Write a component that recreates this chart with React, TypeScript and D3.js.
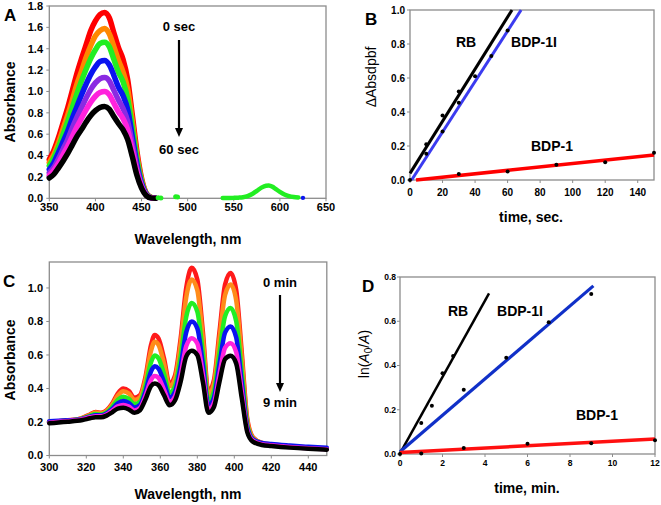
import React from "react";
import * as d3 from "d3";

// ---------------- Panel A data: absorbance spectra, 0–60 sec ----------------
const aWavelength = [350, 355, 360, 365, 370, 375, 380, 385, 390, 395, 400, 405, 410, 415, 420, 425, 430, 435, 440, 445, 450, 455, 460, 465];
const aAbs0s = [0.365, 0.45, 0.57, 0.71, 0.85, 1.01, 1.17, 1.31, 1.44, 1.57, 1.66, 1.72, 1.74, 1.69, 1.55, 1.41, 1.3, 1.11, 0.78, 0.44, 0.19, 0.05, 0.01, 0.0];
const aAbs10s = [0.335, 0.41, 0.52, 0.65, 0.78, 0.92, 1.07, 1.19, 1.32, 1.43, 1.52, 1.57, 1.59, 1.54, 1.42, 1.29, 1.18, 1.02, 0.72, 0.4, 0.17, 0.05, 0.01, 0.0];
const aAbs20s = [0.305, 0.38, 0.48, 0.6, 0.72, 0.85, 0.98, 1.1, 1.21, 1.31, 1.39, 1.45, 1.46, 1.42, 1.3, 1.18, 1.09, 0.93, 0.66, 0.37, 0.16, 0.045, 0.01, 0.0];
const aAbs30s = [0.27, 0.335, 0.43, 0.53, 0.63, 0.75, 0.86, 0.97, 1.07, 1.16, 1.23, 1.28, 1.29, 1.25, 1.15, 1.04, 0.96, 0.83, 0.58, 0.32, 0.14, 0.04, 0.006, 0.0];
const aAbs40s = [0.24, 0.29, 0.37, 0.46, 0.55, 0.66, 0.76, 0.85, 0.94, 1.02, 1.08, 1.12, 1.13, 1.1, 1.01, 0.92, 0.84, 0.72, 0.51, 0.28, 0.12, 0.034, 0.006, 0.0];
const aAbs50s = [0.215, 0.26, 0.33, 0.41, 0.49, 0.58, 0.67, 0.75, 0.83, 0.9, 0.955, 0.99, 1.0, 0.97, 0.89, 0.81, 0.745, 0.64, 0.45, 0.25, 0.11, 0.03, 0.005, 0.0];
const aAbs60s = [0.19, 0.225, 0.285, 0.35, 0.42, 0.5, 0.58, 0.645, 0.715, 0.775, 0.82, 0.85, 0.86, 0.835, 0.765, 0.7, 0.64, 0.55, 0.39, 0.215, 0.095, 0.026, 0.004, 0.0];
const aTailWavelength = [538, 545, 550, 555, 560, 565, 570, 575, 580, 585, 588, 592, 595, 600, 605, 610, 615, 620];
const aTailAbs = [0.003, 0.003, 0.004, 0.006, 0.01, 0.02, 0.04, 0.07, 0.1, 0.118, 0.12, 0.108, 0.09, 0.06, 0.035, 0.02, 0.012, 0.008];
const aDotWavelength = [468, 471, 487, 489];
const aDotAbs = [0.004, 0.003, 0.015, 0.012];
const aBlueDotWavelength = [625];
const aBlueDotAbs = [0.004];
const aXTicks = [350, 400, 450, 500, 550, 600, 650];
const aYTicks = [0, 0.2, 0.4, 0.6, 0.8, 1.0, 1.2, 1.4, 1.6, 1.8];

// ---------------- Panel B data: ΔAbs dpbf vs time (sec) ----------------
const bRBTime = [10, 20, 30];
const bRBValue = [0.21, 0.38, 0.52];
const bBDP1ITime = [0, 10, 20, 30, 40, 50, 60];
const bBDP1IValue = [0.0, 0.155, 0.285, 0.455, 0.61, 0.73, 0.88];
const bBDP1Time = [30, 60, 90, 120, 150];
const bBDP1Value = [0.035, 0.05, 0.09, 0.105, 0.16];
const bRBFitTime = [0, 62.7];
const bRBFitValue = [0.039, 1.0];
const bBDP1IFitTime = [1, 68.3];
const bBDP1IFitValue = [0.0, 1.0];
const bBDP1FitTime = [3.7, 150];
const bBDP1FitValue = [0.0, 0.147];
const bXTicks = [0, 20, 40, 60, 80, 100, 120, 140];
const bYTicks = [0, 0.2, 0.4, 0.6, 0.8, 1.0];

// ---------------- Panel C data: absorbance spectra, 0–9 min ----------------
const cWavelength = [300, 305, 310, 315, 318, 322, 325, 328, 331, 334, 337, 340, 343, 346, 349, 352, 355, 357, 359, 362, 365, 368, 371, 374, 377, 380, 383, 386, 389, 392, 395, 398, 401, 404, 407, 410, 415, 420, 430, 440, 450];
const cAbsRun1 = [0.2, 0.205, 0.21, 0.215, 0.225, 0.245, 0.26, 0.255, 0.27, 0.31, 0.37, 0.4, 0.385, 0.345, 0.36, 0.47, 0.66, 0.72, 0.7, 0.58, 0.43, 0.48, 0.7, 1.0, 1.12, 1.05, 0.74, 0.38, 0.45, 0.74, 1.02, 1.09, 0.99, 0.62, 0.22, 0.11, 0.075, 0.065, 0.055, 0.048, 0.04];
const cAbsRun2 = [0.199, 0.204, 0.209, 0.214, 0.224, 0.242, 0.256, 0.251, 0.266, 0.303, 0.357, 0.384, 0.37, 0.332, 0.347, 0.451, 0.626, 0.679, 0.661, 0.549, 0.412, 0.459, 0.664, 0.943, 1.051, 0.987, 0.698, 0.363, 0.428, 0.698, 0.958, 1.021, 0.928, 0.582, 0.209, 0.107, 0.074, 0.064, 0.054, 0.047, 0.04];
const cAbsRun3 = [0.198, 0.203, 0.208, 0.213, 0.221, 0.237, 0.247, 0.244, 0.257, 0.289, 0.332, 0.351, 0.338, 0.307, 0.322, 0.413, 0.556, 0.597, 0.581, 0.487, 0.375, 0.416, 0.59, 0.826, 0.91, 0.859, 0.613, 0.327, 0.382, 0.613, 0.831, 0.88, 0.803, 0.503, 0.186, 0.099, 0.071, 0.063, 0.053, 0.046, 0.039];
const cAbsRun4 = [0.205, 0.207, 0.21, 0.214, 0.219, 0.232, 0.241, 0.239, 0.251, 0.278, 0.312, 0.326, 0.314, 0.287, 0.302, 0.383, 0.502, 0.533, 0.519, 0.438, 0.346, 0.383, 0.532, 0.735, 0.8, 0.759, 0.546, 0.299, 0.347, 0.546, 0.733, 0.77, 0.706, 0.442, 0.17, 0.097, 0.075, 0.068, 0.059, 0.052, 0.046];
const cAbsRun5 = [0.196, 0.201, 0.206, 0.211, 0.217, 0.228, 0.235, 0.234, 0.245, 0.268, 0.294, 0.302, 0.292, 0.269, 0.284, 0.356, 0.452, 0.474, 0.463, 0.393, 0.32, 0.353, 0.48, 0.652, 0.7, 0.668, 0.486, 0.274, 0.314, 0.486, 0.643, 0.67, 0.617, 0.387, 0.152, 0.089, 0.067, 0.061, 0.051, 0.044, 0.038];
const cAbsRun6 = [0.192, 0.197, 0.202, 0.207, 0.212, 0.222, 0.228, 0.228, 0.238, 0.258, 0.28, 0.285, 0.275, 0.255, 0.27, 0.335, 0.415, 0.43, 0.42, 0.36, 0.3, 0.33, 0.44, 0.59, 0.625, 0.6, 0.44, 0.255, 0.29, 0.44, 0.575, 0.595, 0.55, 0.345, 0.14, 0.083, 0.063, 0.057, 0.047, 0.04, 0.035];
const cXTicks = [300, 320, 340, 360, 380, 400, 420, 440];
const cYTicks = [0, 0.2, 0.4, 0.6, 0.8, 1.0];

// ---------------- Panel D data: ln(A0/A) vs time (min) ----------------
const dRBTime = [0, 1, 1.5, 2, 2.5];
const dRBValue = [0.0, 0.14, 0.218, 0.365, 0.443];
const dBDP1ITime = [3, 5, 7, 9];
const dBDP1IValue = [0.29, 0.435, 0.595, 0.723];
const dBDP1Time = [1, 3, 6, 9, 12];
const dBDP1Value = [0.002, 0.027, 0.046, 0.049, 0.062];
const dRBFitTime = [0, 4.19];
const dRBFitValue = [0.003, 0.726];
const dBDP1IFitTime = [0, 9.1];
const dBDP1IFitValue = [0.01, 0.76];
const dBDP1FitTime = [0, 12];
const dBDP1FitValue = [0.007, 0.068];
const dXTicks = [0, 2, 4, 6, 8, 10, 12];
const dYTicks = [0, 0.2, 0.4, 0.6, 0.8];

// ---------------- styles ----------------
const FONT = "'Liberation Sans', Arial, Helvetica, sans-serif";
const FRAME = "#8c8c8c";
const aColors = ["#ff0000", "#ff8800", "#22ee22", "#0a14f0", "#8a2be2", "#ff22dd", "#000000"];
const cColors = ["#ff1a1a", "#ff8c1a", "#22ee22", "#0a14f0", "#ff22dd", "#000000"];

const ax = d3.scaleLinear().domain([350, 650]).range([49.3, 326]);
const ay = d3.scaleLinear().domain([0, 1.8]).range([198.3, 6]);
const bx = d3.scaleLinear().domain([0, 150]).range([410, 654]);
const by = d3.scaleLinear().domain([0, 1]).range([180, 10]);
const cx = d3.scaleLinear().domain([300, 450]).range([49.3, 326.8]);
const cy = d3.scaleLinear().domain([0, 1.155]).range([455.5, 262]);
const dx = d3.scaleLinear().domain([0, 12]).range([400, 655]);
const dy = d3.scaleLinear().domain([0, 0.8]).range([454, 277]);

type Scale = d3.ScaleLinear<number, number>;

function Axes(props: {
  x: Scale; y: Scale; xTicks: number[]; yTicks: number[];
  xFmt: (v: number) => string; yFmt: (v: number) => string;
  fs: number; xLabY: number; yLabX: number;
}) {
  const { x, y, xTicks, yTicks, xFmt, yFmt, fs, xLabY, yLabX } = props;
  const [x0, x1] = x.range();
  const [y0, y1] = y.range();
  return (
    <g>
      <rect x={x0} y={y1} width={x1 - x0} height={y0 - y1} fill="none" stroke={FRAME} strokeWidth={1.3} />
      {xTicks.map((t) => (
        <g key={"x" + t}>
          <line x1={x(t)} x2={x(t)} y1={y0} y2={y0 + 3} stroke={FRAME} strokeWidth={1} />
          <text x={x(t)} y={xLabY} textAnchor="middle" fontSize={fs} fontWeight="bold" fontFamily={FONT}>{xFmt(t)}</text>
        </g>
      ))}
      {yTicks.map((t) => (
        <g key={"y" + t}>
          <line x1={x0 - 3} x2={x0} y1={y(t)} y2={y(t)} stroke={FRAME} strokeWidth={1} />
          <text x={yLabX} y={y(t)} dy="0.35em" textAnchor="end" fontSize={fs} fontWeight="bold" fontFamily={FONT}>{yFmt(t)}</text>
        </g>
      ))}
    </g>
  );
}

function Arrow({ x, yTop, yTip }: { x: number; yTop: number; yTip: number }) {
  return (
    <g>
      <line x1={x} x2={x} y1={yTop} y2={yTip - 8} stroke="#000" strokeWidth={2.2} />
      <path d={`M${x - 4},${yTip - 9} L${x + 4},${yTip - 9} L${x},${yTip} Z`} fill="#000" />
    </g>
  );
}

export default function App() {
  const fmt1 = d3.format(".1f");
  const fmt0 = d3.format("d");

  const aLine = d3.line<number>().x((_, i) => ax(aWavelength[i])).y((v) => ay(v)).curve(d3.curveMonotoneX);
  const aSeries = [aAbs0s, aAbs10s, aAbs20s, aAbs30s, aAbs40s, aAbs50s, aAbs60s];
  const aTail = d3.line<number>().x((_, i) => ax(aTailWavelength[i])).y((v) => ay(v)).curve(d3.curveMonotoneX);

  const cLine = d3.line<number>().x((_, i) => cx(cWavelength[i])).y((v) => cy(v)).curve(d3.curveMonotoneX);
  const cSeries = [cAbsRun1, cAbsRun2, cAbsRun3, cAbsRun4, cAbsRun5, cAbsRun6];

  const fitLine = (xs: Scale, ys: Scale, t: number[], v: number[]) =>
    d3.line<number>().x((d) => xs(d)).y((_, i) => ys(v[i]))(t) || "";

  const dots = (xs: Scale, ys: Scale, t: number[], v: number[], key: string, r = 2, fill = "#000") =>
    t.map((tt, i) => <circle key={key + i} cx={xs(tt)} cy={ys(v[i])} r={r} fill={fill} />);

  const annot = { fontFamily: FONT, fontWeight: "bold" as const };

  return (
    <svg width={661} height={505} style={{ position: "absolute", left: 0, top: 0, background: "#fff" }}>
      <rect width={661} height={505} fill="#fff" />

      {/* ---------- Panel A ---------- */}
      <Axes x={ax} y={ay} xTicks={aXTicks} yTicks={aYTicks} xFmt={fmt0} yFmt={fmt1} fs={11} xLabY={211} yLabX={43} />
      <g fill="none" strokeLinejoin="round" strokeLinecap="round">
        {aSeries.map((s, i) => (
          <path key={"a" + i} d={aLine(s) || ""} stroke={aColors[i]} strokeWidth={5.5} />
        ))}
        <path d={aTail(aTailAbs) || ""} stroke={aColors[2]} strokeWidth={4.5} />
      </g>
      {dots(ax, ay, aDotWavelength, aDotAbs, "ad", 2.5, aColors[2])}
      {dots(ax, ay, aBlueDotWavelength, aBlueDotAbs, "abd", 2.2, aColors[3])}
      <text x={4} y={21} fontSize={17} {...annot}>A</text>
      <text x={179} y={31} fontSize={13} textAnchor="middle" {...annot}>0 sec</text>
      <Arrow x={179} yTop={40} yTip={137} />
      <text x={179} y={154} fontSize={13} textAnchor="middle" {...annot}>60 sec</text>
      <text x={188} y={244} fontSize={14} textAnchor="middle" {...annot}>Wavelength, nm</text>
      <text transform="translate(15,102) rotate(-90)" fontSize={14} textAnchor="middle" {...annot}>Absorbance</text>

      {/* ---------- Panel B ---------- */}
      <Axes x={bx} y={by} xTicks={bXTicks} yTicks={bYTicks} xFmt={fmt0} yFmt={fmt1} fs={10} xLabY={196} yLabX={405} />
      <path d={fitLine(bx, by, bRBFitTime, bRBFitValue)} stroke="#000" strokeWidth={3} fill="none" />
      <path d={fitLine(bx, by, bBDP1IFitTime, bBDP1IFitValue)} stroke="#3b3bf0" strokeWidth={3} fill="none" />
      <path d={fitLine(bx, by, bBDP1FitTime, bBDP1FitValue)} stroke="#ff0000" strokeWidth={3.5} fill="none" />
      {dots(bx, by, bRBTime, bRBValue, "brb")}
      {dots(bx, by, bBDP1ITime, bBDP1IValue, "bbi")}
      {dots(bx, by, bBDP1Time, bBDP1Value, "bb1")}
      <text x={365} y={25} fontSize={17} {...annot}>B</text>
      <text x={466} y={47} fontSize={14} textAnchor="middle" {...annot}>RB</text>
      <text x={534} y={47} fontSize={14} textAnchor="middle" {...annot}>BDP-1I</text>
      <text x={552} y={151} fontSize={14} textAnchor="middle" {...annot}>BDP-1</text>
      <text x={531} y={222} fontSize={14} textAnchor="middle" {...annot}>time, sec.</text>
      <text transform="translate(376,77) rotate(-90)" fontSize={14} textAnchor="middle" fontFamily={FONT}>
        ΔAbsdpbf
      </text>

      {/* ---------- Panel C ---------- */}
      <Axes x={cx} y={cy} xTicks={cXTicks} yTicks={cYTicks} xFmt={fmt0} yFmt={fmt1} fs={11} xLabY={471} yLabX={43} />
      <g fill="none" strokeLinejoin="round" strokeLinecap="round">
        {cSeries.map((s, i) => (
          <path key={"c" + i} d={cLine(s) || ""} stroke={cColors[i]} strokeWidth={4.5} />
        ))}
      </g>
      <text x={3} y={287} fontSize={17} {...annot}>C</text>
      <text x={280} y={287} fontSize={13} textAnchor="middle" {...annot}>0 min</text>
      <Arrow x={280} yTop={295} yTip={392} />
      <text x={280} y={407} fontSize={13} textAnchor="middle" {...annot}>9 min</text>
      <text x={188} y={499} fontSize={14} textAnchor="middle" {...annot}>Wavelength, nm</text>
      <text transform="translate(15,360) rotate(-90)" fontSize={14} textAnchor="middle" {...annot}>Absorbance</text>

      {/* ---------- Panel D ---------- */}
      <Axes x={dx} y={dy} xTicks={dXTicks} yTicks={dYTicks} xFmt={fmt0} yFmt={fmt1} fs={8.5} xLabY={466} yLabX={396} />
      <path d={fitLine(dx, dy, dRBFitTime, dRBFitValue)} stroke="#000" strokeWidth={2.5} fill="none" />
      <path d={fitLine(dx, dy, dBDP1IFitTime, dBDP1IFitValue)} stroke="#1030c8" strokeWidth={3.2} fill="none" />
      <path d={fitLine(dx, dy, dBDP1FitTime, dBDP1FitValue)} stroke="#ff1010" strokeWidth={3.5} fill="none" />
      {dots(dx, dy, dRBTime, dRBValue, "drb")}
      {dots(dx, dy, dBDP1ITime, dBDP1IValue, "dbi")}
      {dots(dx, dy, dBDP1Time, dBDP1Value, "db1")}
      <text x={362} y={292} fontSize={17} {...annot}>D</text>
      <text x={458} y={316} fontSize={14} textAnchor="middle" {...annot}>RB</text>
      <text x={520} y={316} fontSize={14} textAnchor="middle" {...annot}>BDP-1I</text>
      <text x={597} y={420} fontSize={14} textAnchor="middle" {...annot}>BDP-1</text>
      <text x={527} y={493} fontSize={14} textAnchor="middle" {...annot}>time, min.</text>
      <text transform="translate(369,354) rotate(-90)" fontSize={14} textAnchor="middle" fontFamily={FONT}>
        ln(<tspan fontStyle="italic">A</tspan><tspan fontSize={10} dy={3}>0</tspan><tspan dy={-3}>/</tspan><tspan fontStyle="italic">A</tspan>)
      </text>
    </svg>
  );
}
